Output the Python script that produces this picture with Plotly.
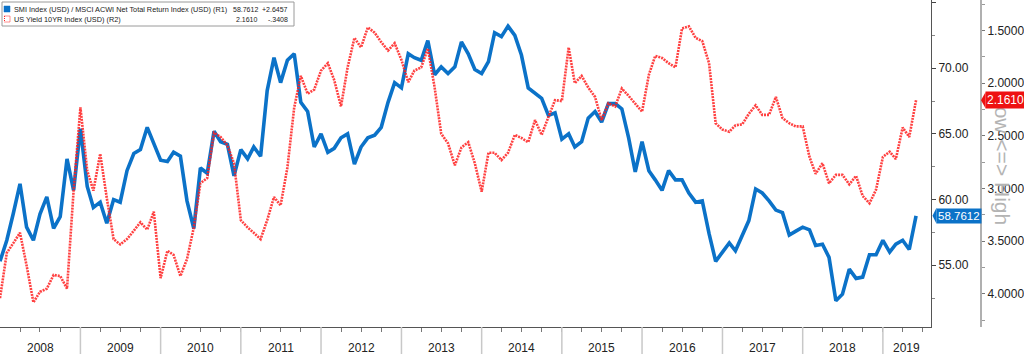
import pandas as pd
import plotly.graph_objects as go

# ---------------- data ----------------
start_month = "2008-01-01"
n_months = 138
dates = pd.date_range(start_month, periods=n_months, freq="MS")

smi_acwi = [
    55.3, 56.9, 58.9, 61.2, 57.9, 56.9, 58.9, 60.2, 57.8, 58.7, 63.1, 60.7,
    65.4, 61.0, 59.4, 59.8, 58.2, 60.0, 59.8, 62.2, 63.5, 63.8, 65.5, 64.3,
    63.0, 62.9, 63.6, 63.3, 59.9, 57.8, 62.4, 62.0, 65.2, 64.4, 64.2, 61.8,
    63.8, 63.1, 64.0, 63.3, 68.3, 70.8, 68.9, 70.6, 71.1, 67.4, 66.7, 64.0,
    65.0, 63.6, 63.9, 64.7, 65.0, 62.7, 64.0, 64.7, 64.9, 65.5, 67.4, 68.9,
    68.5, 71.1, 70.8, 70.6, 72.1, 69.5, 70.1, 69.6, 70.1, 72.0, 71.1, 69.9,
    69.6, 70.5, 72.7, 72.4, 73.2, 72.5, 71.0, 68.5, 68.1, 67.7, 66.4, 66.6,
    64.6, 65.0, 64.0, 64.4, 66.2, 66.7, 65.9, 67.3, 67.3, 66.9, 64.7, 62.1,
    64.4, 62.2, 61.5, 60.7, 62.2, 61.5, 61.5, 60.5, 59.8, 59.9, 57.4, 55.3,
    56.0, 56.7, 56.1, 57.3, 58.4, 60.8, 60.5, 59.9, 59.2, 59.0, 57.3, 57.6,
    57.9, 57.7, 56.5, 56.6, 55.6, 52.3, 52.8, 54.7, 54.0, 54.1, 55.8, 55.8,
    56.9, 56.0, 56.6, 56.9, 56.2, 58.7612,
]

us_10y = [
    4.04, 3.61, 3.52, 3.42, 3.73, 4.08, 3.98, 3.95, 3.82, 3.83, 3.95, 3.02,
    2.23, 2.83, 3.02, 2.67, 3.09, 3.48, 3.53, 3.48, 3.40, 3.32, 3.39, 3.22,
    3.85, 3.59, 3.63, 3.83, 3.67, 3.37, 2.95, 2.90, 2.47, 2.51, 2.59, 2.76,
    3.30, 3.37, 3.42, 3.48, 3.30, 3.08, 3.16, 2.80, 2.23, 1.93, 2.10, 2.06,
    1.88, 1.81, 1.97, 2.22, 1.85, 1.57, 1.66, 1.47, 1.52, 1.61, 1.69, 1.62,
    1.78, 1.99, 1.88, 1.85, 1.67, 2.04, 2.48, 2.57, 2.78, 2.61, 2.56, 2.76,
    3.03, 2.66, 2.66, 2.73, 2.66, 2.49, 2.52, 2.56, 2.35, 2.49, 2.32, 2.16,
    2.17, 1.66, 2.00, 1.93, 2.04, 2.13, 2.35, 2.19, 2.22, 2.05, 2.12, 2.19,
    2.27, 1.92, 1.74, 1.76, 1.81, 1.85, 1.48, 1.46, 1.57, 1.60, 1.81, 2.38,
    2.44, 2.46, 2.40, 2.39, 2.29, 2.21, 2.30, 2.30, 2.13, 2.33, 2.38, 2.41,
    2.41, 2.70, 2.86, 2.76, 2.95, 2.87, 2.87, 2.96, 2.88, 3.07, 3.14, 3.01,
    2.70, 2.65, 2.72, 2.42, 2.51, 2.1610,
]

series_names = [
    "SMI Index (USD) / MSCI ACWI Net Total Return Index (USD) (R1)",
    "US Yield 10YR Index (USD) (R2)",
]
last_values = ["58.7612", "2.1610"]
changes = ["+2.6457", "-.3408"]
years = [2008, 2009, 2010, 2011, 2012, 2013, 2014, 2015, 2016, 2017, 2018, 2019]
x_end = "2019-08-08"
side_note = "Low <=> High"

# ---------------- style ----------------
BLUE = "#0b72c8"
RED = "#ff2020"
FONT = "Liberation Sans, Arial, sans-serif"
W, H = 1024, 354
PW, PH = 981, 327          # plotting paper area in px (margins r=43, b=27)


def px(x):
    return x / PW


def py(y):
    return 1 - y / PH


fig = go.Figure()
fig.add_trace(go.Scatter(x=dates, y=smi_acwi, mode="lines", yaxis="y",
                         line=dict(color=BLUE, width=3.6), showlegend=False))
fig.add_trace(go.Scatter(x=dates, y=us_10y, mode="lines", yaxis="y2",
                         line=dict(color=RED, width=2.6, dash="2px,1px"),
                         opacity=0.85, showlegend=False))

shapes = []
annotations = []

# year separators below the axis + year labels
end_ts = pd.Timestamp(x_end)
for yr in years:
    s = pd.Timestamp(f"{yr}-01-01")
    if yr > years[0]:
        shapes.append(dict(type="line", xref="x", yref="paper", x0=s, x1=s,
                           y0=0, y1=py(354), line=dict(color="#c8c8c8", width=1.5)))
    e = min(pd.Timestamp(f"{yr + 1}-01-01"), end_ts)
    mid = s + (e - s) / 2
    annotations.append(dict(x=mid, y=py(348), xref="x", yref="paper", text=str(yr),
                            showarrow=False, xanchor="center", yanchor="middle",
                            font=dict(size=12, color="#222", family=FONT)))

# legend box
shapes.append(dict(type="rect", xref="paper", yref="paper", x0=px(2), x1=px(294),
                   y0=py(2), y1=py(26), line=dict(color="#9a9a9a", width=1),
                   fillcolor="white", layer="above"))
shapes.append(dict(type="rect", xref="paper", yref="paper", x0=px(4), x1=px(10),
                   y0=py(6), y1=py(12), line=dict(color=BLUE, width=0.5),
                   fillcolor=BLUE, layer="above"))
shapes.append(dict(type="rect", xref="paper", yref="paper", x0=px(4.5), x1=px(10),
                   y0=py(16), y1=py(22), line=dict(color=RED, width=1, dash="1px,1px"),
                   fillcolor="white", layer="above"))
row_y = [9, 19]
for i in range(2):
    annotations.append(dict(x=px(12), y=py(row_y[i]), xref="paper", yref="paper",
                            text=series_names[i], showarrow=False, xanchor="left",
                            yanchor="middle", font=dict(size=7.3, color="#222", family=FONT)))
    annotations.append(dict(x=px(260), y=py(row_y[i]), xref="paper", yref="paper",
                            text=last_values[i], showarrow=False, xanchor="right",
                            yanchor="middle", font=dict(size=7, color="#222", family=FONT)))
    annotations.append(dict(x=px(290), y=py(row_y[i]), xref="paper", yref="paper",
                            text=changes[i], showarrow=False, xanchor="right",
                            yanchor="middle", font=dict(size=7, color="#222", family=FONT)))

# Low <=> High side note
annotations.append(dict(x=px(1003), y=py(160), xref="paper", yref="paper",
                        text=side_note, textangle=90, showarrow=False,
                        xanchor="center", yanchor="middle",
                        font=dict(size=21, color="#b4b4b4", family=FONT)))

# last value tags
annotations.append(dict(x=px(936), y=smi_acwi[-1], xref="paper", yref="y",
                        text=last_values[0], showarrow=False, xanchor="left",
                        yanchor="middle", bgcolor=BLUE, borderpad=1,
                        font=dict(size=11.5, color="white", family=FONT)))
shapes.append(dict(type="path", xref="paper", yref="y", xsizemode="pixel",
                   ysizemode="pixel", xanchor=px(936), yanchor=smi_acwi[-1],
                   path="M 0.5 -8 L -3.5 0 L 0.5 8 Z", fillcolor=BLUE,
                   line=dict(width=0), layer="above"))
annotations.append(dict(x=px(985), y=us_10y[-1], xref="paper", yref="y2",
                        text=last_values[1], showarrow=False, xanchor="left",
                        yanchor="middle", bgcolor="#ee1111", borderpad=1,
                        font=dict(size=12, color="white", family=FONT)))
shapes.append(dict(type="path", xref="paper", yref="y2", xsizemode="pixel",
                   ysizemode="pixel", xanchor=px(985), yanchor=us_10y[-1],
                   path="M 0.5 -8 L -4 0 L 0.5 8 Z", fillcolor="#ee1111",
                   line=dict(width=0), layer="above"))

fig.update_layout(
    width=W, height=H,
    margin=dict(l=0, r=W - PW, t=0, b=H - PH, pad=0),
    paper_bgcolor="white", plot_bgcolor="white",
    font=dict(family=FONT, size=12, color="#222"),
    showlegend=False,
    xaxis=dict(domain=[0, 931 / PW], type="date", range=[dates[0], x_end],
               showline=True, linecolor="#555", linewidth=1, ticks="",
               showticklabels=False, showgrid=False, zeroline=False,
               minor=dict(ticks="outside", ticklen=4, tickcolor="#777",
                          dtick="M3", tick0=start_month, showgrid=False)),
    yaxis=dict(side="right", anchor="x", range=[50.3, 75.19], dtick=5, tick0=0,
               tickformat=".2f", ticks="outside", ticklen=4, tickcolor="#444",
               showline=True, linecolor="#555", linewidth=1, showgrid=False,
               zeroline=False, tickfont=dict(size=12, color="#222"),
               minor=dict(dtick=2.5, tick0=0, ticks="outside", ticklen=3,
                          tickcolor="#888", showgrid=False)),
    yaxis2=dict(side="right", overlaying="y", anchor="free", position=1,
                range=[4.314, 1.21], dtick=0.5, tick0=0, tickformat=".4f",
                ticks="outside", ticklen=3, tickcolor="#777", showline=True,
                linecolor="#b0b0b0", linewidth=2, showgrid=False, zeroline=False,
                tickfont=dict(size=12, color="#222"),
                minor=dict(dtick=0.25, tick0=0, ticks="outside", ticklen=3,
                           tickcolor="#999", showgrid=False)),
    shapes=shapes,
    annotations=annotations,
)

fig.write_html("out.html")
